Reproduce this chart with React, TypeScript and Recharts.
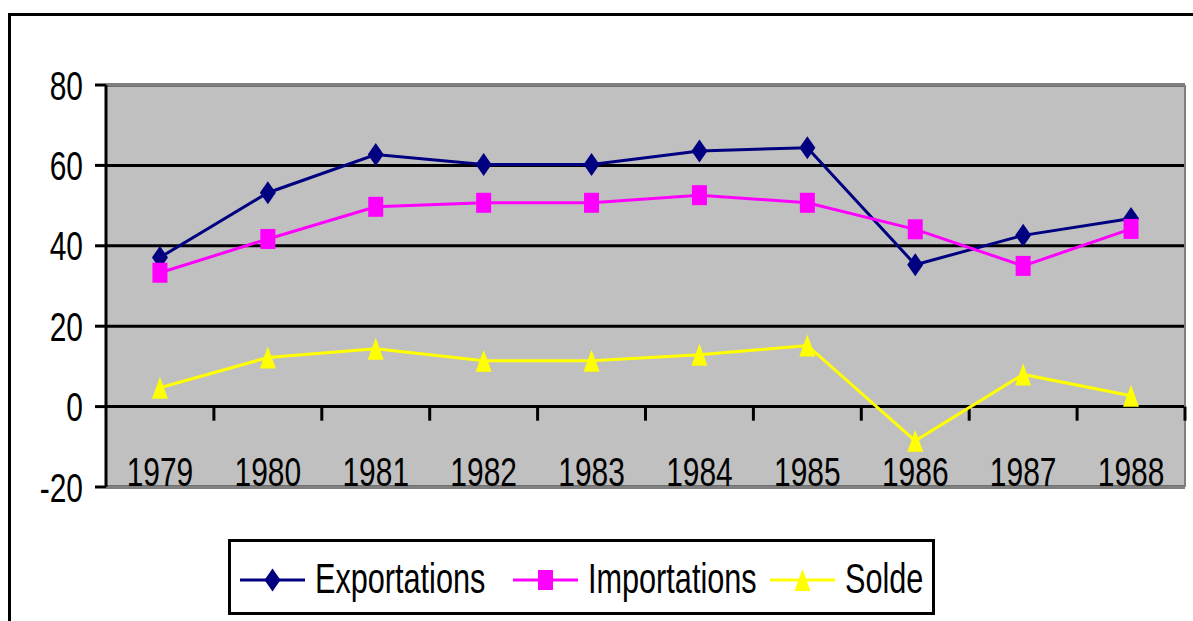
import { LineChart, Line, XAxis, YAxis, CartesianGrid, ReferenceLine, Legend } from 'recharts';

const years = [1979, 1980, 1981, 1982, 1983, 1984, 1985, 1986, 1987, 1988];
const exportations = [37.1, 53.2, 62.7, 60.2, 60.2, 63.6, 64.4, 35.3, 42.6, 46.8];
const importations = [33.3, 41.7, 49.7, 50.7, 50.7, 52.6, 50.7, 44.1, 35.0, 44.2];
const solde = [4.7, 12.2, 14.4, 11.4, 11.4, 12.9, 15.2, -8.5, 8.0, 2.7];
const yTicks = [-20, 0, 20, 40, 60, 80];
// category boundaries, where the small tick marks sit on the zero line
const catBounds = [1979.5, 1980.5, 1981.5, 1982.5, 1983.5, 1984.5, 1985.5, 1986.5, 1987.5, 1988.5];

const data = years.map((year, i) => ({
  year,
  exportations: exportations[i],
  importations: importations[i],
  solde: solde[i],
}));

const FONT = '"Liberation Sans", Arial, sans-serif';
const SQUEEZE = 0.73;

function NarrowText({ x, y, anchor, size, children }: any) {
  return (
    <text
      transform={`translate(${x},${y}) scale(${SQUEEZE},1)`}
      textAnchor={anchor}
      fontSize={size}
      fontFamily={FONT}
      fill="#000"
    >
      {children}
    </text>
  );
}

function YTick({ x, y, payload }: any) {
  return <NarrowText x={x} y={y + 14.5} anchor="end" size={41}>{payload.value}</NarrowText>;
}

function XTick({ x, y, payload }: any) {
  return <NarrowText x={x} y={y - 1} anchor="middle" size={41}>{payload.value}</NarrowText>;
}

function Marker({ shape, cx, cy, color }: any) {
  if (cx == null || cy == null) return null;
  if (shape === 'diamond') {
    return <polygon points={`${cx},${cy - 11.5} ${cx + 8},${cy} ${cx},${cy + 11.5} ${cx - 8},${cy}`} fill={color} />;
  }
  if (shape === 'square') {
    return <rect x={cx - 7.5} y={cy - 10} width={15} height={20} fill={color} />;
  }
  return <polygon points={`${cx},${cy - 11} ${cx + 8},${cy + 11} ${cx - 8},${cy + 11}`} fill={color} />;
}

const series = [
  { key: 'exportations', name: 'Exportations', color: '#000080', shape: 'diamond' },
  { key: 'importations', name: 'Importations', color: '#ff00ff', shape: 'square' },
  { key: 'solde', name: 'Solde', color: '#ffff00', shape: 'triangle' },
];

function LegendBox({ payload }: any) {
  const itemX = [12, 285, 542];
  return (
    <svg width={707} height={76} style={{ display: 'block' }}>
      <rect x={1.5} y={1.5} width={704} height={73} fill="#fff" stroke="#000" strokeWidth={3} />
      {(payload || []).map((entry: any, i: number) => {
        const s = series.find((d) => d.key === entry.dataKey) || series[i];
        const x0 = itemX[i];
        return (
          <g key={s.key}>
            <line x1={x0} x2={x0 + 65} y1={41} y2={41} stroke={s.color} strokeWidth={3} />
            <Marker shape={s.shape} cx={x0 + 32.5} cy={41} color={s.color} />
            <NarrowText x={x0 + 75} y={54} anchor="start" size={42}>{entry.value}</NarrowText>
          </g>
        );
      })}
    </svg>
  );
}

export default function App() {
  return (
    <div style={{ position: 'fixed', left: 0, top: 0, width: 1193, height: 621, background: '#fff', overflow: 'hidden' }}>
      <div
        style={{
          position: 'absolute',
          left: 8,
          top: 13,
          width: 1300,
          height: 700,
          border: '3px solid #000',
        }}
      />
      <div style={{ position: 'absolute', left: 0, top: 0 }}>
        <LineChart width={1193} height={621} data={data} margin={{ top: 85, right: 8, bottom: 133, left: 16 }}>
          <CartesianGrid vertical={false} stroke="#000" strokeWidth={3} fill="#c0c0c0" fillOpacity={1} />
          <XAxis
            dataKey="year"
            type="number"
            domain={[1978.5, 1988.5]}
            ticks={years}
            interval={0}
            height={1}
            tickSize={0}
            tickMargin={0}
            tickLine={false}
            axisLine={false}
            tick={(p: any) => <XTick {...p} />}
          />
          <YAxis
            type="number"
            domain={[-20, 80]}
            ticks={yTicks}
            interval={0}
            width={90}
            tickSize={11}
            tickMargin={12}
            axisLine={{ stroke: '#000', strokeWidth: 3 }}
            tickLine={{ stroke: '#000', strokeWidth: 3 }}
            tick={(p: any) => <YTick {...p} />}
          />
          <ReferenceLine y={80} stroke="#808080" strokeWidth={3} />
          <ReferenceLine y={-20} stroke="#808080" strokeWidth={3} />
          <ReferenceLine x={1988.5} stroke="#808080" strokeWidth={2} />
          {catBounds.map((b) => (
            <ReferenceLine
              key={b}
              segment={[{ x: b, y: 0 }, { x: b, y: -3.5 }]}
              stroke="#000"
              strokeWidth={3}
            />
          ))}
          {series.map((s) => (
            <Line
              key={s.key}
              type="linear"
              dataKey={s.key}
              name={s.name}
              stroke={s.color}
              strokeWidth={3}
              isAnimationActive={false}
              activeDot={false}
              dot={(p: any) => <Marker key={`${s.key}-${p.index}`} shape={s.shape} cx={p.cx} cy={p.cy} color={s.color} />}
            />
          ))}
          <Legend
            layout="horizontal"
            verticalAlign="middle"
            align="center"
            content={(p: any) => <LegendBox {...p} />}
            wrapperStyle={{ left: 228, top: 539, width: 707, height: 76 }}
          />
        </LineChart>
      </div>
    </div>
  );
}
